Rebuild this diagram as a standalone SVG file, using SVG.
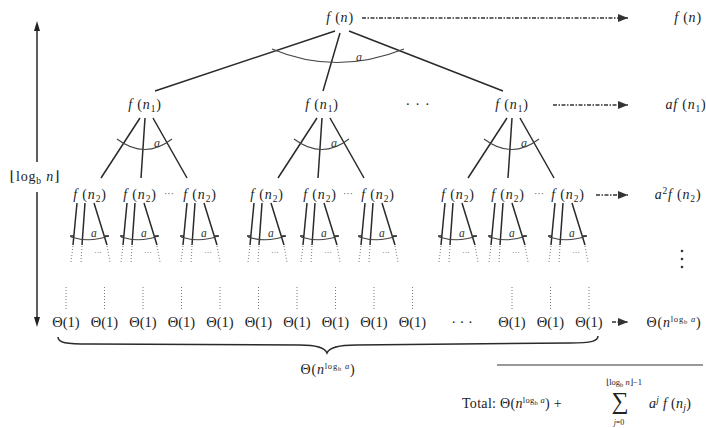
<svg xmlns="http://www.w3.org/2000/svg" xmlns:xlink="http://www.w3.org/1999/xlink" width="706" height="428" viewBox="0 0 706 428">
<style>
text{font-family:"Liberation Serif","DejaVu Serif","Times New Roman",serif;fill:#222}
.t{font-size:14px;letter-spacing:0.8px}
.i{font-style:italic}
.s{font-size:9.5px}
.lab{font-size:12px;font-style:italic;fill:#333}
.ln{stroke:#2a2a2a;stroke-width:1.5;fill:none}
.arc{stroke:#444;stroke-width:1.1;fill:none}
.dt{stroke:#777;stroke-width:1;stroke-dasharray:1 2;fill:none}
.arr{stroke:#333;stroke-width:1.5;stroke-dasharray:4 1.5 1.5 1.5;fill:none;marker-end:url(#ah)}
.th{font-size:14.5px}
.el{font-size:10px;fill:#555}
</style>
<defs>
<marker id="ah" viewBox="0 0 10 8" refX="10" refY="4" markerWidth="10" markerHeight="8" markerUnits="userSpaceOnUse" orient="auto">
<path d="M0,0 L10,4 L0,8 Z" fill="#333"/>
</marker>
<g id="sub1">
<path class="ln" d="M-5,118 L-44,178 M0,118 L-4,178 M8,118 L42,178"/>
<path class="arc" d="M-28,139 Q0,160 27,139"/>
<text class="lab" x="9" y="147">a</text>
</g>
<g id="leaf">
<path class="ln" d="M-13,203 L-17,245 M-5,203 L-8,245 M4,203 L17,245"/>
<path class="arc" d="M-19,237 Q0,243 18,236"/>
<path class="ln" d="M-20,236 L-16,236 M15,236 L19,236" stroke-width="0.8"/>
<text class="lab" x="1" y="237" style="font-size:11.5px">a</text>
<path class="dt" d="M-17,246 L-19,262 M-8,246 L-9,262 M17,246 L20,262"/>
<text class="el" x="8" y="255" text-anchor="middle" style="font-size:8px">···</text>
</g>
</defs>

<g id="connectors">
<path class="ln" d="M335,31 L155,91 M340,33 L323,91 M349,31 L503,91"/>
<path class="arc" d="M272,49 Q336,76 404,49"/>
<text class="lab" x="356" y="61">a</text>
<use xlink:href="#sub1" x="145"/>
<use xlink:href="#sub1" x="322"/>
<use xlink:href="#sub1" x="512"/>
<use xlink:href="#leaf" x="90"/>
<use xlink:href="#leaf" x="140"/>
<use xlink:href="#leaf" x="200"/>
<use xlink:href="#leaf" x="267"/>
<use xlink:href="#leaf" x="320"/>
<use xlink:href="#leaf" x="378"/>
<use xlink:href="#leaf" x="458"/>
<use xlink:href="#leaf" x="508"/>
<use xlink:href="#leaf" x="568"/>
<path class="dt" d="M66,287 V311 M104.5,287 V311 M143,287 V311 M181.5,287 V311 M220,287 V311 M258.5,287 V311 M297,287 V311 M335.5,287 V311 M374,287 V311 M412.5,287 V311 M512,287 V311 M550.5,287 V311 M589,287 V311"/>
<path class="arr" d="M362,18 H628"/>
<path class="arr" d="M553,105 H628"/>
<path class="arr" d="M596,195 H628"/>
<path class="arr" d="M612,322 H628"/>
<path class="ln" d="M37,30 V162 M37,192 V318" stroke="#555"/>
<path d="M37,21 L34,31 L40,31 Z M37,327 L34,317 L40,317 Z" fill="#222"/>
<path class="ln" stroke-width="1" d="M58,337 C58,343 66,344 90,344 L300,345 C318,345 325,348 327,353 C329,348 336,345 356,345 L570,343 C592,343 598,341 598,336"/>
<path d="M497,365 H703" stroke="#777" stroke-width="1.5"/>
</g>

<g id="n-root"><text class="t" x="340" y="22" text-anchor="middle"><tspan class="i">f</tspan> (<tspan class="i">n</tspan>)</text></g>
<g id="n1-a"><text class="t" x="145" y="109" text-anchor="middle"><tspan class="i">f</tspan> (<tspan class="i">n</tspan><tspan class="s" dy="3">1</tspan><tspan dy="-3">)</tspan></text></g>
<g id="n1-b"><text class="t" x="322" y="109" text-anchor="middle"><tspan class="i">f</tspan> (<tspan class="i">n</tspan><tspan class="s" dy="3">1</tspan><tspan dy="-3">)</tspan></text></g>
<g id="n1-dots"><text class="t" x="418" y="109" text-anchor="middle">· · ·</text></g>
<g id="n1-c"><text class="t" x="512" y="109" text-anchor="middle"><tspan class="i">f</tspan> (<tspan class="i">n</tspan><tspan class="s" dy="3">1</tspan><tspan dy="-3">)</tspan></text></g>

<g id="n2-1"><text class="t" x="90" y="199" text-anchor="middle"><tspan class="i">f</tspan> (<tspan class="i">n</tspan><tspan class="s" dy="3">2</tspan><tspan dy="-3">)</tspan></text></g>
<g id="n2-2"><text class="t" x="140" y="199" text-anchor="middle"><tspan class="i">f</tspan> (<tspan class="i">n</tspan><tspan class="s" dy="3">2</tspan><tspan dy="-3">)</tspan></text></g>
<g id="n2-d1"><text class="el" x="169" y="197" text-anchor="middle">···</text></g>
<g id="n2-3"><text class="t" x="200" y="199" text-anchor="middle"><tspan class="i">f</tspan> (<tspan class="i">n</tspan><tspan class="s" dy="3">2</tspan><tspan dy="-3">)</tspan></text></g>
<g id="n2-4"><text class="t" x="267" y="199" text-anchor="middle"><tspan class="i">f</tspan> (<tspan class="i">n</tspan><tspan class="s" dy="3">2</tspan><tspan dy="-3">)</tspan></text></g>
<g id="n2-5"><text class="t" x="320" y="199" text-anchor="middle"><tspan class="i">f</tspan> (<tspan class="i">n</tspan><tspan class="s" dy="3">2</tspan><tspan dy="-3">)</tspan></text></g>
<g id="n2-d2"><text class="el" x="348" y="197" text-anchor="middle">···</text></g>
<g id="n2-6"><text class="t" x="378" y="199" text-anchor="middle"><tspan class="i">f</tspan> (<tspan class="i">n</tspan><tspan class="s" dy="3">2</tspan><tspan dy="-3">)</tspan></text></g>
<g id="n2-7"><text class="t" x="458" y="199" text-anchor="middle"><tspan class="i">f</tspan> (<tspan class="i">n</tspan><tspan class="s" dy="3">2</tspan><tspan dy="-3">)</tspan></text></g>
<g id="n2-8"><text class="t" x="508" y="199" text-anchor="middle"><tspan class="i">f</tspan> (<tspan class="i">n</tspan><tspan class="s" dy="3">2</tspan><tspan dy="-3">)</tspan></text></g>
<g id="n2-d3"><text class="el" x="539" y="197" text-anchor="middle">···</text></g>
<g id="n2-9"><text class="t" x="568" y="199" text-anchor="middle"><tspan class="i">f</tspan> (<tspan class="i">n</tspan><tspan class="s" dy="3">2</tspan><tspan dy="-3">)</tspan></text></g>

<g id="leaves">
<text class="th" x="66" y="327" text-anchor="middle">Θ(1)</text>
<text class="th" x="104.5" y="327" text-anchor="middle">Θ(1)</text>
<text class="th" x="143" y="327" text-anchor="middle">Θ(1)</text>
<text class="th" x="181.5" y="327" text-anchor="middle">Θ(1)</text>
<text class="th" x="220" y="327" text-anchor="middle">Θ(1)</text>
<text class="th" x="258.5" y="327" text-anchor="middle">Θ(1)</text>
<text class="th" x="297" y="327" text-anchor="middle">Θ(1)</text>
<text class="th" x="335.5" y="327" text-anchor="middle">Θ(1)</text>
<text class="th" x="374" y="327" text-anchor="middle">Θ(1)</text>
<text class="th" x="412.5" y="327" text-anchor="middle">Θ(1)</text>
<text class="th" x="462" y="327" text-anchor="middle">· · ·</text>
<text class="th" x="512" y="327" text-anchor="middle">Θ(1)</text>
<text class="th" x="550.5" y="327" text-anchor="middle">Θ(1)</text>
<text class="th" x="589" y="327" text-anchor="middle">Θ(1)</text>
</g>

<g id="height-label"><text class="t" x="35" y="181" text-anchor="middle">⌊log<tspan class="s" dy="3">b</tspan><tspan class="i" dy="-3"> n</tspan>⌋</text></g>

<g id="brace-label"><text class="t" x="328" y="374" text-anchor="middle">Θ(<tspan class="i">n</tspan><tspan style="font-size:8.5px" dy="-5">log</tspan><tspan style="font-size:6.5px" dy="2">b</tspan><tspan style="font-size:8.5px" dy="-2" class="i"> a</tspan><tspan dy="5">)</tspan></text></g>

<g id="right-col">
<text class="t" x="688" y="22" text-anchor="middle"><tspan class="i">f</tspan> (<tspan class="i">n</tspan>)</text>
<text class="t" x="686" y="109" text-anchor="middle"><tspan class="i">af</tspan> (<tspan class="i">n</tspan><tspan class="s" dy="3">1</tspan><tspan dy="-3">)</tspan></text>
<text class="t" x="678" y="199" text-anchor="middle"><tspan class="i">a</tspan><tspan class="s" dy="-5">2</tspan><tspan class="i" dy="5">f</tspan> (<tspan class="i">n</tspan><tspan class="s" dy="3">2</tspan><tspan dy="-3">)</tspan></text>
<circle cx="682" cy="251" r="1.3" fill="#333"/>
<circle cx="682" cy="259" r="1.3" fill="#333"/>
<circle cx="682" cy="267" r="1.3" fill="#333"/>
<text class="t" x="674" y="327" text-anchor="middle">Θ(<tspan class="i">n</tspan><tspan style="font-size:8.5px" dy="-5">log</tspan><tspan style="font-size:6.5px" dy="2">b</tspan><tspan style="font-size:8.5px" dy="-2" class="i"> a</tspan><tspan dy="5">)</tspan></text>
</g>

<g id="total">
<text class="t" x="462" y="408" style="letter-spacing:0.3px">Total: Θ(<tspan class="i">n</tspan><tspan style="font-size:8.5px" dy="-5">log</tspan><tspan style="font-size:6.5px" dy="2">b</tspan><tspan style="font-size:8.5px" dy="-2" class="i"> a</tspan><tspan dy="5">) +</tspan></text>
<text x="620" y="409" text-anchor="middle" style="font-size:24px">∑</text>
<text x="624" y="385" text-anchor="middle" style="font-size:8.5px">⌊log<tspan style="font-size:6.5px" dy="2">b</tspan><tspan class="i" dy="-2"> n</tspan>⌋−1</text>
<text x="619" y="425" text-anchor="middle" style="font-size:8px"><tspan class="i">j</tspan>=0</text>
<text class="t" x="649" y="408" style="letter-spacing:0.3px"><tspan class="i">a</tspan><tspan class="s i" dy="-5">j</tspan><tspan class="i" dy="5"> f</tspan> (<tspan class="i">n</tspan><tspan class="s i" dy="3">j</tspan><tspan dy="-3">)</tspan></text>
</g>
</svg>
